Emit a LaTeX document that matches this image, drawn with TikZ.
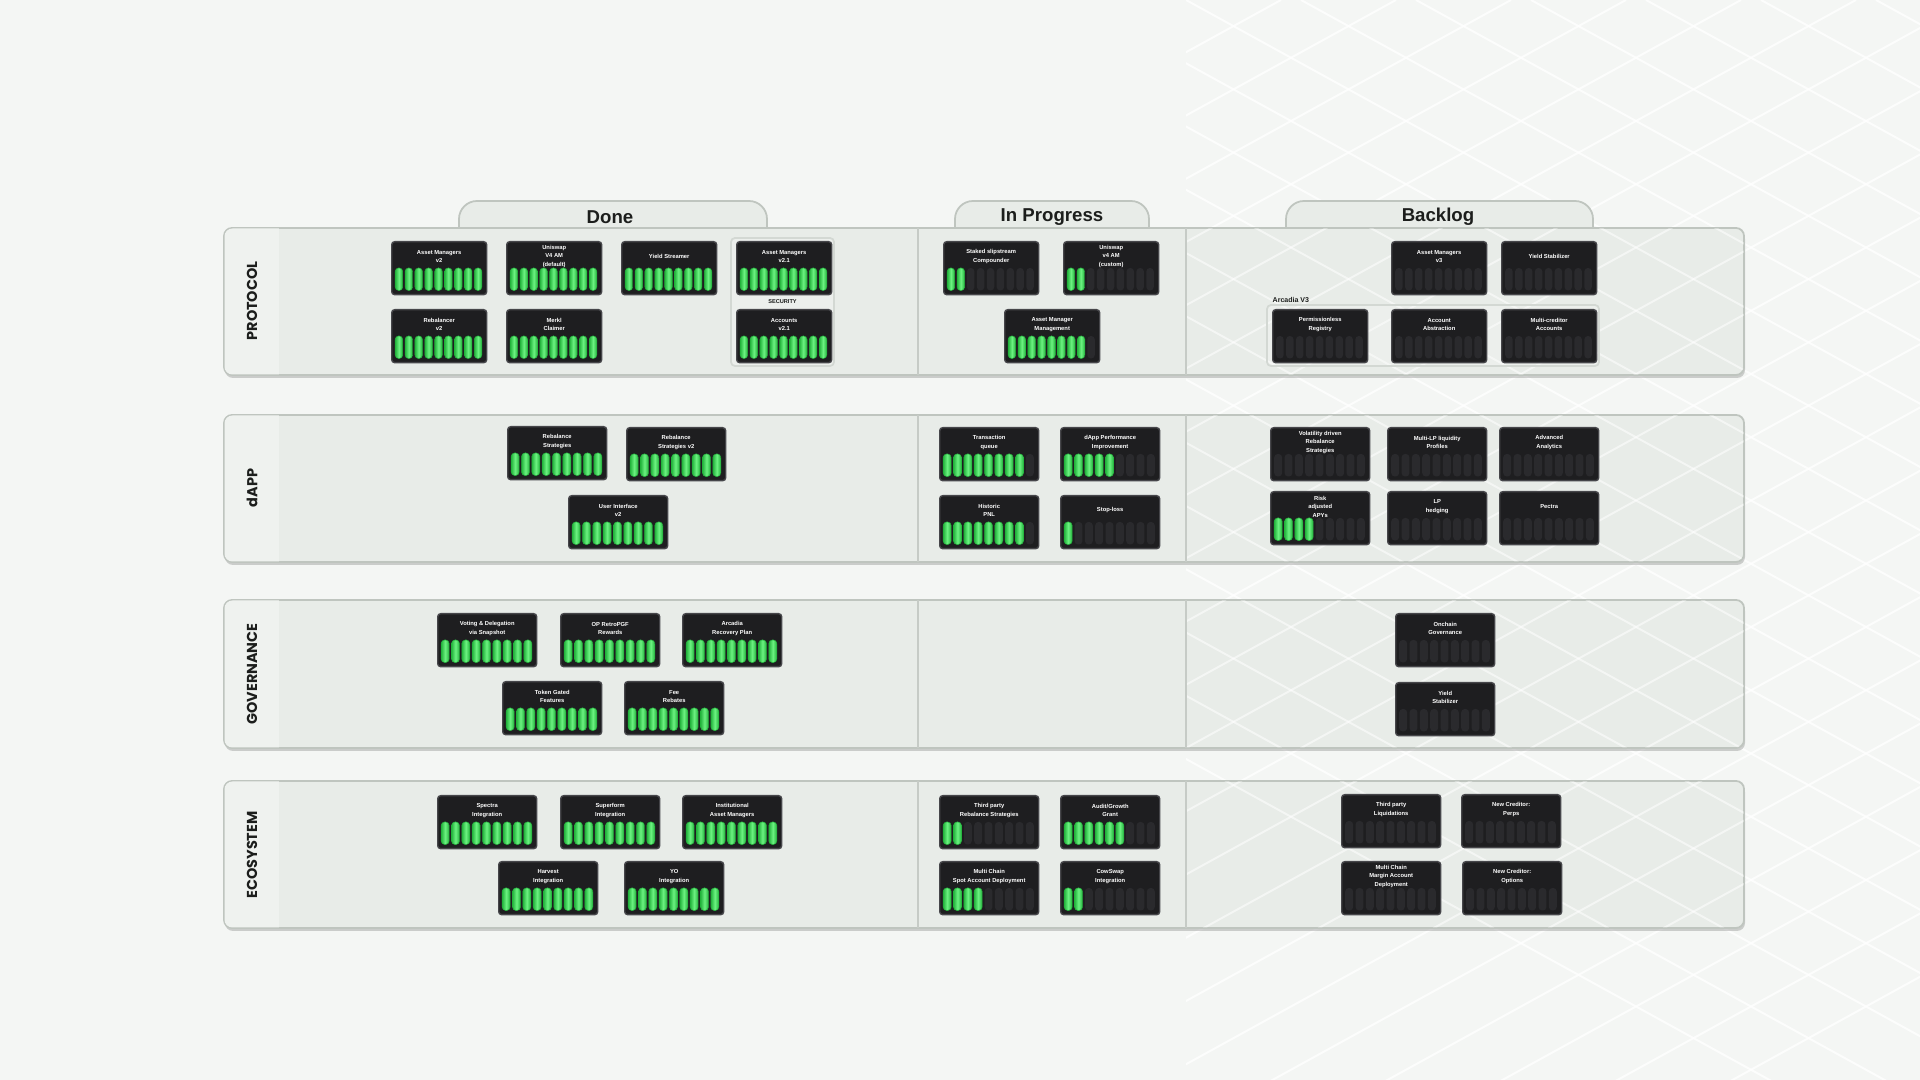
\documentclass[tikz,border=0pt]{standalone}
\usepackage{fontspec}
\setmainfont{Liberation Sans}
\newfontfamily\labelfont{Poppins}
\usetikzlibrary{calc}
\definecolor{pagebg}{HTML}{F4F6F4}
\definecolor{panelbg}{HTML}{E8ECE8}
\definecolor{panelbd}{HTML}{BFC5BF}
\definecolor{stripbg}{HTML}{EFF2EF}
\definecolor{cardbg}{HTML}{1E1E20}
\definecolor{cardbd}{HTML}{46464A}
\definecolor{emptybar}{HTML}{2A2A2D}
\definecolor{gdark}{HTML}{25B53E}
\definecolor{glight}{HTML}{6CF281}
\definecolor{ink}{HTML}{1C1E1C}
\definecolor{divider}{HTML}{C6CBC6}
\definecolor{groupbd}{HTML}{D3D8D3}

\newcommand{\rmcard}[6]{%
  \node[cardbox, minimum width={#4*0.01cm}, minimum height={53*0.01cm}, anchor=north west] (#1) at (#2,#3) {};
  \node[cardtext] (#1-t) at ($(#1.north)+(0,15.5)$) {#6};
  \pgfmathsetmacro{\stp}{(#4-6)/9}
  \pgfmathsetmacro{\bw}{\stp-2.4}
  \foreach \i in {0,...,8} {
    \pgfmathsetmacro{\bx}{#2+3+\i*\stp+1.2}
    \ifnum\i<#5\relax
      \path[gbar] (\bx,#3+27) rectangle ++(\bw,22.5);
    \else
      \path[ebar] (\bx,#3+27) rectangle ++(\bw,22.5);
    \fi
  }
}

\begin{document}
\begin{tikzpicture}[x=0.01cm,y=-0.01cm,
  cardbox/.style={draw=cardbd, line width=0.4pt, fill=cardbg, rounded corners=0.03cm, inner sep=0pt},
  cardtext/.style={text=white, font=\bfseries\fontsize{1.65pt}{2.4pt}\selectfont, align=center, inner sep=0pt},
  gbar/.style={draw=gdark, line width=0.15pt, left color=gdark, right color=gdark, middle color=glight, rounded corners=0.035cm},
  ebar/.style={fill=emptybar, rounded corners=0.035cm},
  panel/.style={draw=panelbd, line width=0.5pt, fill=panelbg, rounded corners=0.08cm},
  pshadow/.style={fill=black!40, opacity=0.45, rounded corners=0.08cm},
  tabshape/.style={draw=panelbd, line width=0.5pt, fill=panelbg, rounded corners=0.18cm},
  headtext/.style={text=ink, font=\bfseries\fontsize{5.3pt}{6pt}\selectfont, inner sep=0pt},
  rowlabel/.style={text=ink, font=\labelfont\bfseries\fontsize{4.1pt}{5pt}\selectfont, inner sep=0pt, rotate=90},
  groupbox/.style={draw=groupbd, line width=0.5pt, fill=white, fill opacity=0.18, rounded corners=0.04cm},
  grouptext/.style={text=ink, font=\bfseries\fontsize{1.6pt}{2pt}\selectfont, inner sep=0pt},
  lattice/.style={draw=white, line width=0.55pt, opacity=0.8},
  divline/.style={draw=divider, line width=0.5pt}
]
\useasboundingbox (0,0) rectangle (1920,1080);
\fill[pagebg] (0,0) rectangle (1920,1080);

% faint lattice in the page background (right side)
\begin{scope}
  \clip (1186,0) rectangle (1920,1080);
  \foreach \k in {-12,...,14} {
    \draw[lattice] (1186+\k*115,0) -- ++(2000,1100);
    \draw[lattice] (1186+\k*115+900,0) -- ++(-2000,1100);
  }
\end{scope}

% column tabs
\path[tabshape] (459,232) -- (459,201) -- (767,201) -- (767,232);
\path[tabshape] (955,232) -- (955,201) -- (1149,201) -- (1149,232);
\path[tabshape] (1286,232) -- (1286,201) -- (1593,201) -- (1593,232);
\node[headtext] (hDone) at (610,217) {Done};
\node[headtext] (hProg) at (1052,217) {In Progress};
\node[headtext] (hBack) at (1438,217) {Backlog};

% row panels
\foreach \t/\b in {228/375, 415/562, 600/748, 781/928} {
  \path[pshadow] (225,\t+3) rectangle (1745,\b+3);
  \path[panel] (224,\t) rectangle (1744,\b);
  \begin{scope}
    \clip[rounded corners=0.08cm] (224.5,\t+0.5) rectangle (1743.5,\b-0.5);
    \fill[stripbg] (224,\t) rectangle (279,\b);
    \begin{scope}
      \clip (1186,\t) rectangle (1744,\b);
      \foreach \k in {-12,...,14} {
        \draw[lattice, opacity=0.55] (1186+\k*115,0) -- ++(2000,1100);
        \draw[lattice, opacity=0.55] (1186+\k*115+900,0) -- ++(-2000,1100);
      }
    \end{scope}
  \end{scope}
  \draw[divline] (918,\t) -- (918,\b);
  \draw[divline] (1186,\t) -- (1186,\b);
}

% row labels
\node[rowlabel] (lP) at (252,301) {PROTOCOL};
\node[rowlabel] (lD) at (252,488) {dAPP};
\node[rowlabel] (lG) at (252,674) {GOVERNANCE};
\node[rowlabel] (lE) at (252,855) {ECOSYSTEM};

% group boxes
\path[groupbox] (731,238) rectangle (834,366);
\node[grouptext] (secl) at (782.5,301.5) {SECURITY};
\path[groupbox] (1267,305) rectangle (1599,366);
\node[grouptext, font=\bfseries\fontsize{2pt}{2.4pt}\selectfont, anchor=west] (arcl) at (1272,300) {Arcadia V3};

% PROTOCOL
\rmcard{p1}{391}{241}{95}{9}{Asset Managers\\v2}
\rmcard{p2}{506}{241}{95}{9}{Uniswap\\V4 AM\\(default)}
\rmcard{p3}{621}{241}{95}{9}{Yield Streamer}
\rmcard{p4}{736}{241}{95}{9}{Asset Managers\\v2.1}
\rmcard{p5}{391}{309}{95}{9}{Rebalancer\\v2}
\rmcard{p6}{506}{309}{95}{9}{Merkl\\Claimer}
\rmcard{p7}{736}{309}{95}{9}{Accounts\\v2.1}
\rmcard{p8}{943}{241}{95}{2}{Staked slipstream\\Compounder}
\rmcard{p9}{1063}{241}{95}{2}{Uniswap\\v4 AM\\(custom)}
\rmcard{p10}{1004}{309}{95}{8}{Asset Manager\\Management}
\rmcard{p11}{1391}{241}{95}{0}{Asset Managers\\v3}
\rmcard{p12}{1501}{241}{95}{0}{Yield Stabilizer}
\rmcard{p13}{1272}{309}{95}{0}{Permissionless\\Registry}
\rmcard{p14}{1391}{309}{95}{0}{Account\\Abstraction}
\rmcard{p15}{1501}{309}{95}{0}{Multi-creditor\\Accounts}

% dAPP
\rmcard{d1}{507}{426}{99}{9}{Rebalance\\Strategies}
\rmcard{d2}{626}{427}{99}{9}{Rebalance\\Strategies v2}
\rmcard{d3}{568}{495}{99}{9}{User Interface\\v2}
\rmcard{d4}{939}{427}{99}{8}{Transaction\\queue}
\rmcard{d5}{1060}{427}{99}{5}{dApp Performance\\Improvement}
\rmcard{d6}{939}{495}{99}{8}{Historic\\PNL}
\rmcard{d7}{1060}{495}{99}{1}{Stop-loss}
\rmcard{d8}{1270}{427}{99}{0}{Volatility driven\\Rebalance\\Strategies}
\rmcard{d9}{1387}{427}{99}{0}{Multi-LP liquidity\\Profiles}
\rmcard{d10}{1499}{427}{99}{0}{Advanced\\Analytics}
\rmcard{d11}{1270}{491}{99}{4}{Risk\\adjusted\\APYs}
\rmcard{d12}{1387}{491}{99}{0}{LP\\hedging}
\rmcard{d13}{1499}{491}{99}{0}{Pectra}

% GOVERNANCE
\rmcard{g1}{437}{613}{99}{9}{Voting \& Delegation\\via Snapshot}
\rmcard{g2}{560}{613}{99}{9}{OP RetroPGF\\Rewards}
\rmcard{g3}{682}{613}{99}{9}{Arcadia\\Recovery Plan}
\rmcard{g4}{502}{681}{99}{9}{Token Gated\\Features}
\rmcard{g5}{624}{681}{99}{9}{Fee\\Rebates}
\rmcard{g6}{1395}{613}{99}{0}{Onchain\\Governance}
\rmcard{g7}{1395}{682}{99}{0}{Yield\\Stabilizer}

% ECOSYSTEM
\rmcard{e1}{437}{795}{99}{9}{Spectra\\Integration}
\rmcard{e2}{560}{795}{99}{9}{Superform\\Integration}
\rmcard{e3}{682}{795}{99}{9}{Institutional\\Asset Managers}
\rmcard{e4}{498}{861}{99}{9}{Harvest\\Integration}
\rmcard{e5}{624}{861}{99}{9}{YO\\Integration}
\rmcard{e6}{939}{795}{99}{2}{Third party\\Rebalance Strategies}
\rmcard{e7}{1060}{795}{99}{6}{Audit/Growth\\Grant}
\rmcard{e8}{939}{861}{99}{4}{Multi Chain\\Spot Account Deployment}
\rmcard{e9}{1060}{861}{99}{2}{CowSwap\\Integration}
\rmcard{e10}{1341}{794}{99}{0}{Third party\\Liquidations}
\rmcard{e11}{1461}{794}{99}{0}{New Creditor:\\Perps}
\rmcard{e12}{1341}{861}{99}{0}{Multi Chain\\Margin Account\\Deployment}
\rmcard{e13}{1462}{861}{99}{0}{New Creditor:\\Options}
\end{tikzpicture}
\end{document}
